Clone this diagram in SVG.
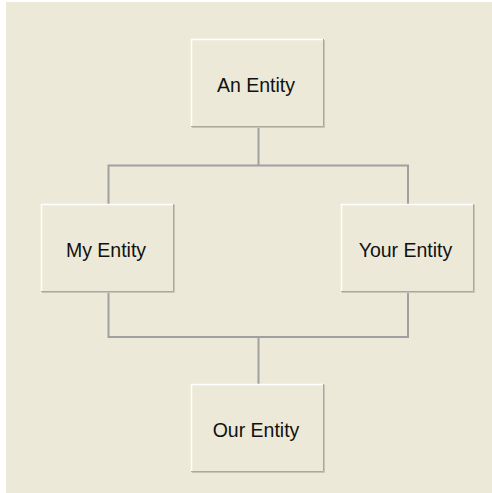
<svg xmlns="http://www.w3.org/2000/svg" width="492" height="493" viewBox="0 0 492 493">
<style>
.bg{fill:#ECE9D8}
.box{fill:#ECE9D8}
.hi{stroke:#FFFFFF;stroke-width:1.5;fill:none}
.sh{stroke:#ACA899;stroke-width:1;fill:none}
.sh2{stroke:#C8C5B8;stroke-width:1;fill:none}
.lbl{font-family:"Liberation Sans",Arial,sans-serif;font-size:19.5px;fill:#111;text-anchor:middle}
.conn{stroke:#A0A0A0;stroke-width:2;fill:none}
</style>
<rect x="0" y="0" width="492" height="493" fill="#FFFFFF"/>
<rect class="bg" x="6" y="2" width="486" height="491"/>
<g id="connectors">
<path class="conn" d="M258.5,128 V165.5 H108.5 V204 M258.5,165.5 H408 V204"/>
<path class="conn" d="M108.5,293 V337 H408 V293 M258.5,337 V384"/>
</g>
<g id="an-entity">
<rect class="box" x="191" y="39" width="133" height="88"/>
<path class="hi" d="M191.5,127 V39.5 H324"/>
<path class="sh" d="M191,126.5 H323.5 V39"/>
<path class="sh2" d="M192,127.5 H324.5 V40"/>
<text class="lbl" x="256" y="91.7">An Entity</text>
</g>
<g id="my-entity">
<rect class="box" x="41" y="204" width="133" height="88"/>
<path class="hi" d="M41.5,292 V204.5 H174"/>
<path class="sh" d="M41,291.5 H173.5 V204"/>
<path class="sh2" d="M42,292.5 H174.5 V205"/>
<text class="lbl" x="106" y="256.7">My Entity</text>
</g>
<g id="your-entity">
<rect class="box" x="341" y="204" width="133" height="88"/>
<path class="hi" d="M341.5,292 V204.5 H474"/>
<path class="sh" d="M341,291.5 H473.5 V204"/>
<path class="sh2" d="M342,292.5 H474.5 V205"/>
<text class="lbl" x="405.5" y="256.7">Your Entity</text>
</g>
<g id="our-entity">
<rect class="box" x="191" y="384" width="133" height="88"/>
<path class="hi" d="M191.5,472 V384.5 H324"/>
<path class="sh" d="M191,471.5 H323.5 V384"/>
<path class="sh2" d="M192,472.5 H324.5 V385"/>
<text class="lbl" x="256" y="436.5">Our Entity</text>
</g>
</svg>
